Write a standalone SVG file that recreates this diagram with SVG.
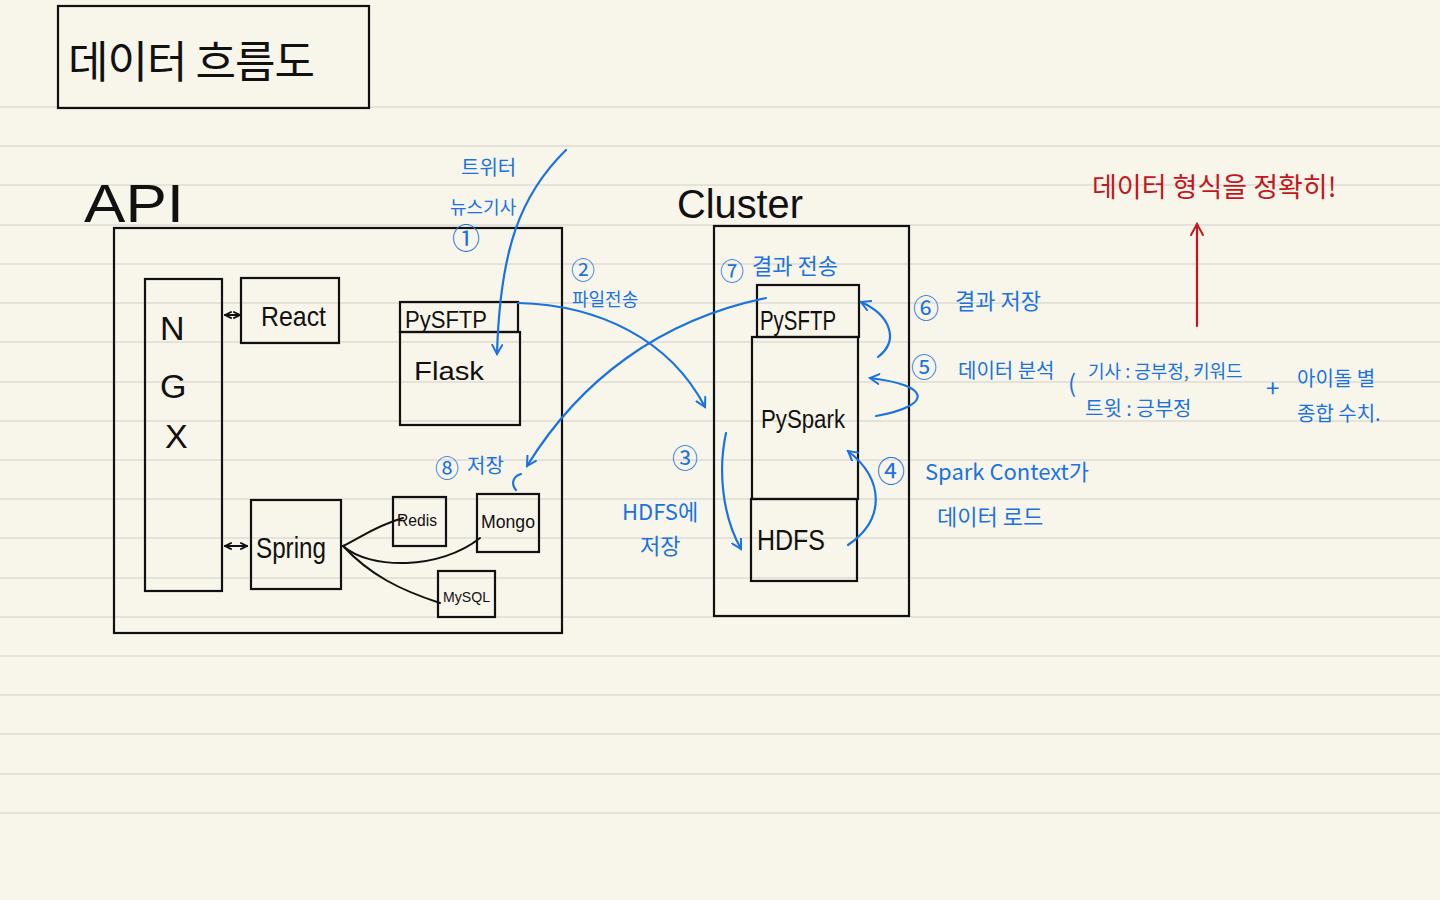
<svg xmlns="http://www.w3.org/2000/svg" width="1440" height="900" viewBox="0 0 1440 900">
<defs>
<style>
.paper{fill:#f8f5ea}
.rule{stroke:#dfdcd3;stroke-width:1.5}
.box{fill:none;stroke:#111;stroke-width:2.2}
.k{font-family:"Liberation Sans","Noto Sans CJK KR",sans-serif;fill:#111}
.kr{font-family:"Noto Sans CJK KR","Noto Sans",sans-serif;fill:#111}
.b{font-family:"Noto Sans CJK KR","Noto Sans",sans-serif;fill:#1a73e0}
.r{font-family:"Noto Sans CJK KR","Noto Sans",sans-serif;fill:#c4161c}
.bl{fill:none;stroke:#1a73e0;stroke-width:2.2;stroke-linecap:round}
.blk{fill:none;stroke:#111;stroke-width:2;stroke-linecap:round}
.red{fill:none;stroke:#c4161c;stroke-width:2.2;stroke-linecap:round}
</style>
<marker id="ab" viewBox="0 0 12 12" refX="10" refY="6" markerWidth="12" markerHeight="12" markerUnits="userSpaceOnUse" orient="auto">
<path d="M1,1 L10,6 L1,11" fill="none" stroke="#1a73e0" stroke-width="2" stroke-linecap="round"/>
</marker>
<marker id="ar" viewBox="0 0 14 14" refX="12" refY="7" markerWidth="14" markerHeight="14" markerUnits="userSpaceOnUse" orient="auto">
<path d="M1,1 L12,7 L1,13" fill="none" stroke="#c4161c" stroke-width="2" stroke-linecap="round"/>
</marker>
<marker id="sk" viewBox="0 0 8 8" refX="7" refY="4" markerWidth="9" markerHeight="9" markerUnits="userSpaceOnUse" orient="auto-start-reverse">
<path d="M1,1 L7,4 L1,7" fill="none" stroke="#111" stroke-width="1.5"/>
</marker>
</defs>

<rect class="paper" x="0" y="0" width="1440" height="900"/>
<g id="rules">
<line class="rule" x1="0" y1="107" x2="1440" y2="107"/>
<line class="rule" x1="0" y1="146" x2="1440" y2="146"/>
<line class="rule" x1="0" y1="185" x2="1440" y2="185"/>
<line class="rule" x1="0" y1="225" x2="1440" y2="225"/>
<line class="rule" x1="0" y1="264" x2="1440" y2="264"/>
<line class="rule" x1="0" y1="303" x2="1440" y2="303"/>
<line class="rule" x1="0" y1="342" x2="1440" y2="342"/>
<line class="rule" x1="0" y1="382" x2="1440" y2="382"/>
<line class="rule" x1="0" y1="421" x2="1440" y2="421"/>
<line class="rule" x1="0" y1="460" x2="1440" y2="460"/>
<line class="rule" x1="0" y1="499" x2="1440" y2="499"/>
<line class="rule" x1="0" y1="538" x2="1440" y2="538"/>
<line class="rule" x1="0" y1="578" x2="1440" y2="578"/>
<line class="rule" x1="0" y1="617" x2="1440" y2="617"/>
<line class="rule" x1="0" y1="656" x2="1440" y2="656"/>
<line class="rule" x1="0" y1="695" x2="1440" y2="695"/>
<line class="rule" x1="0" y1="734" x2="1440" y2="734"/>
<line class="rule" x1="0" y1="774" x2="1440" y2="774"/>
<line class="rule" x1="0" y1="813" x2="1440" y2="813"/>
</g>

<g id="title">
<rect class="box" x="58" y="6" width="311" height="102"/>
<text class="kr" x="68" y="78" font-size="44" textLength="247" lengthAdjust="spacing">데이터  흐름도</text>
</g>

<g id="api">
<text class="k" x="84" y="222" font-size="54" textLength="100" lengthAdjust="spacingAndGlyphs">API</text>
<rect class="box" x="114" y="228" width="448" height="405"/>
</g>

<g id="ngx">
<rect class="box" x="145" y="279" width="77" height="312"/>
<text class="k" x="160" y="340" font-size="34">N</text>
<text class="k" x="160" y="398" font-size="34">G</text>
<text class="k" x="165" y="448" font-size="34">X</text>
</g>

<g id="react">
<rect class="box" x="241" y="278" width="98" height="65"/>
<text class="k" x="261" y="326" font-size="28" textLength="65" lengthAdjust="spacingAndGlyphs">React</text>
</g>

<g id="flask">
<rect class="box" x="400" y="302" width="118" height="30"/>
<text class="k" x="405" y="328" font-size="23" textLength="82" lengthAdjust="spacingAndGlyphs">PySFTP</text>
<rect class="box" x="400" y="332" width="120" height="93"/>
<text class="k" x="414" y="380" font-size="26" textLength="70" lengthAdjust="spacingAndGlyphs">Flask</text>
</g>

<g id="spring">
<rect class="box" x="251" y="500" width="90" height="89"/>
<text class="k" x="256" y="558" font-size="30" textLength="70" lengthAdjust="spacingAndGlyphs">Spring</text>
</g>

<g id="redis">
<rect class="box" x="393" y="497" width="53" height="49"/>
<text class="k" x="397" y="526" font-size="17" textLength="40" lengthAdjust="spacingAndGlyphs">Redis</text>
</g>

<g id="mongo">
<rect class="box" x="477" y="494" width="62" height="58"/>
<text class="k" x="481" y="528" font-size="18" textLength="54" lengthAdjust="spacingAndGlyphs">Mongo</text>
</g>

<g id="mysql">
<rect class="box" x="438" y="571" width="57" height="46"/>
<text class="k" x="443" y="602" font-size="15" textLength="47" lengthAdjust="spacingAndGlyphs">MySQL</text>
</g>

<g id="cluster">
<text class="k" x="677" y="218" font-size="41" textLength="126" lengthAdjust="spacingAndGlyphs">Cluster</text>
<rect class="box" x="714" y="226" width="195" height="390"/>
</g>

<g id="c-pysftp">
<rect class="box" x="757" y="285" width="102" height="52"/>
<text class="k" x="760" y="330" font-size="27" textLength="76" lengthAdjust="spacingAndGlyphs">PySFTP</text>
</g>

<g id="c-pyspark">
<rect class="box" x="752" y="337" width="106" height="162"/>
<text class="k" x="761" y="428" font-size="26" textLength="84" lengthAdjust="spacingAndGlyphs">PySpark</text>
</g>

<g id="c-hdfs">
<rect class="box" x="751" y="499" width="106" height="82"/>
<text class="k" x="757" y="550" font-size="29" textLength="68" lengthAdjust="spacingAndGlyphs">HDFS</text>
</g>

<g id="connectors">
<!-- black double arrows -->
<path class="blk" d="M225,315 L240,315" marker-start="url(#sk)" marker-end="url(#sk)"/>
<path class="blk" d="M225,546 L247,546" marker-start="url(#sk)" marker-end="url(#sk)"/>
<!-- Spring to DBs -->
<path class="blk" d="M343,546 C360,538 375,526 403,518"/>
<path class="blk" d="M343,546 C370,570 440,570 480,538"/>
<path class="blk" d="M343,546 C370,575 400,590 440,603"/>
<!-- blue flows -->
<path class="bl" d="M566,150 C520,195 500,250 497,354" marker-end="url(#ab)"/>
<path class="bl" d="M518,303 C600,305 670,340 705,407" marker-end="url(#ab)"/>
<path class="bl" d="M766,298 C660,320 580,380 527,466" marker-end="url(#ab)"/>
<path class="bl" d="M726,433 C718,470 722,515 741,549" marker-end="url(#ab)"/>
<path class="bl" d="M848,545 C885,520 885,480 848,451" marker-end="url(#ab)"/>
<path class="bl" d="M876,416 C935,405 930,385 870,378" marker-end="url(#ab)"/>
<path class="bl" d="M878,357 C900,340 890,315 861,302" marker-end="url(#ab)"/>
<path class="bl" d="M521,474 C514,476 510,483 516,490"/>
<!-- red -->
<path class="red" d="M1197,326 L1197,224" marker-end="url(#ar)"/>
</g>

<g id="labels">
<text class="b" x="461" y="175" font-size="20">트위터</text>
<text class="b" x="450" y="214" font-size="18">뉴스기사</text>
<text class="b" x="452" y="249" font-size="28">①</text>
<text class="b" x="571" y="279" font-size="24">②</text>
<text class="b" x="572" y="306" font-size="18">파일전송</text>
<text class="b" x="435" y="477" font-size="24">⑧</text>
<text class="b" x="467" y="473" font-size="20">저장</text>
<text class="b" x="720" y="280" font-size="24">⑦</text>
<text class="b" x="752" y="274" font-size="22">결과 전송</text>
<text class="b" x="913" y="318" font-size="26">⑥</text>
<text class="b" x="955" y="309" font-size="22">결과 저장</text>
<text class="b" x="911" y="377" font-size="26">⑤</text>
<text class="b" x="958" y="378" font-size="20">데이터 분석</text>
<text class="b" x="1068" y="392" font-size="24">(</text>
<text class="b" x="1088" y="378" font-size="18">기사 : 긍부정, 키워드</text>
<text class="b" x="1085" y="416" font-size="20">트윗 : 긍부정</text>
<text class="b" x="1266" y="397" font-size="24">+</text>
<text class="b" x="1297" y="386" font-size="20">아이돌 별</text>
<text class="b" x="1297" y="421" font-size="20">종합 수치.</text>
<text class="b" x="877" y="482" font-size="28">④</text>
<text class="b" x="925" y="480" font-size="22">Spark Context가</text>
<text class="b" x="937" y="525" font-size="22">데이터 로드</text>
<text class="b" x="672" y="468" font-size="26">③</text>
<text class="b" x="622" y="520" font-size="22">HDFS에</text>
<text class="b" x="640" y="554" font-size="22">저장</text>
<text class="r" x="1092" y="197" font-size="27">데이터 형식을 정확히!</text>
</g>
</svg>
